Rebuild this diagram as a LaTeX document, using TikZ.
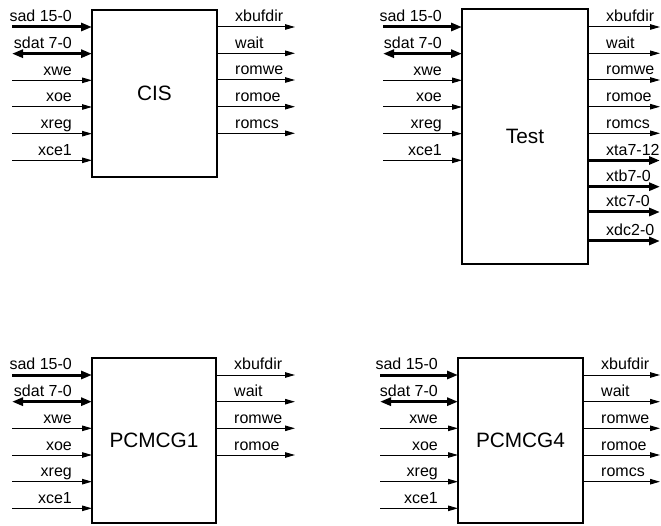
\documentclass[tikz,border=0pt]{standalone}
\usepackage{fontspec}
\setmainfont{Liberation Sans}
\usetikzlibrary{arrows.meta,calc}
\tikzset{
  blk/.style={draw, line width=2pt, inner sep=0pt, outer sep=0pt, font=\fontsize{20.8}{24}\selectfont},
  lbl/.style={inner sep=0pt, font=\fontsize{16}{18}\selectfont},
  sig/.style={line width=1pt, -{Triangle[length=10pt,width=5.5pt]}},
  bus/.style={line width=3pt, -{Triangle[length=11pt,width=8pt]}},
  bibus/.style={line width=3pt, {Triangle[length=11pt,width=8pt]}-{Triangle[length=11pt,width=8pt]}},
}
\newcommand\leftins[3]{%
  \foreach \d/\t/\s [count=\i] in {0/sad 15-0/bus, 26.67/sdat 7-0/bibus, 53.33/xwe/sig, 80/xoe/sig, 106.67/xreg/sig, 133.33/xce1/sig}{
    \coordinate (#1-in\i) at (#2,#3+\d);
    \draw[\s] (#1-in\i) -- (#1-in\i -| #1.west);
    \node[lbl, anchor=base east] (#1-inl\i) at ($(#1-in\i -| #1.west)+(-20,-5)$) {\t};
  }}
\newcommand\rightouts[3]{%
  \foreach \y/\t/\s [count=\i] in {#3}{
    \coordinate (#1-out\i) at (#2,\y);
    \draw[\s] (#1-out\i -| #1.east) -- (#1-out\i);
    \node[lbl, anchor=base west] (#1-outl\i) at ($(#1-out\i -| #1.east)+(18,-5)$) {\t};
  }}
\begin{document}
\begin{tikzpicture}[x=1pt,y=-1pt]
\useasboundingbox (0,0) rectangle (661,526);
\node[blk, minimum width=125pt, minimum height=167pt] (cis) at (154.5,93.5) {CIS};
\node[blk, minimum width=126pt, minimum height=255pt] (test) at (525,136.5) {Test};
\node[blk, minimum width=124pt, minimum height=165pt] (pcA) at (154,440.5) {PCMCG1};
\node[blk, minimum width=125pt, minimum height=165pt] (pcB) at (520.5,440.5) {PCMCG4};

\leftins{cis}{12}{27}
\leftins{test}{383}{27}
\leftins{pcA}{12}{375}
\leftins{pcB}{380}{375}

\rightouts{cis}{295}{27/xbufdir/sig, 53.3/wait/sig, 80/romwe/sig, 106.7/romoe/sig, 133.3/romcs/sig}
\rightouts{test}{660}{27/xbufdir/sig, 53.3/wait/sig, 80/romwe/sig, 106.7/romoe/sig, 133.3/romcs/sig, 160.5/xta7-12/bus, 186.7/xtb7-0/bus, 212/xtc7-0/bus, 241/xdc2-0/bus}
\rightouts{pcA}{295}{375/xbufdir/sig, 401.7/wait/sig, 428.3/romwe/sig, 455/romoe/sig}
\rightouts{pcB}{660}{375/xbufdir/sig, 401.7/wait/sig, 428.3/romwe/sig, 455/romoe/sig, 481.7/romcs/sig}
\end{tikzpicture}
\end{document}
